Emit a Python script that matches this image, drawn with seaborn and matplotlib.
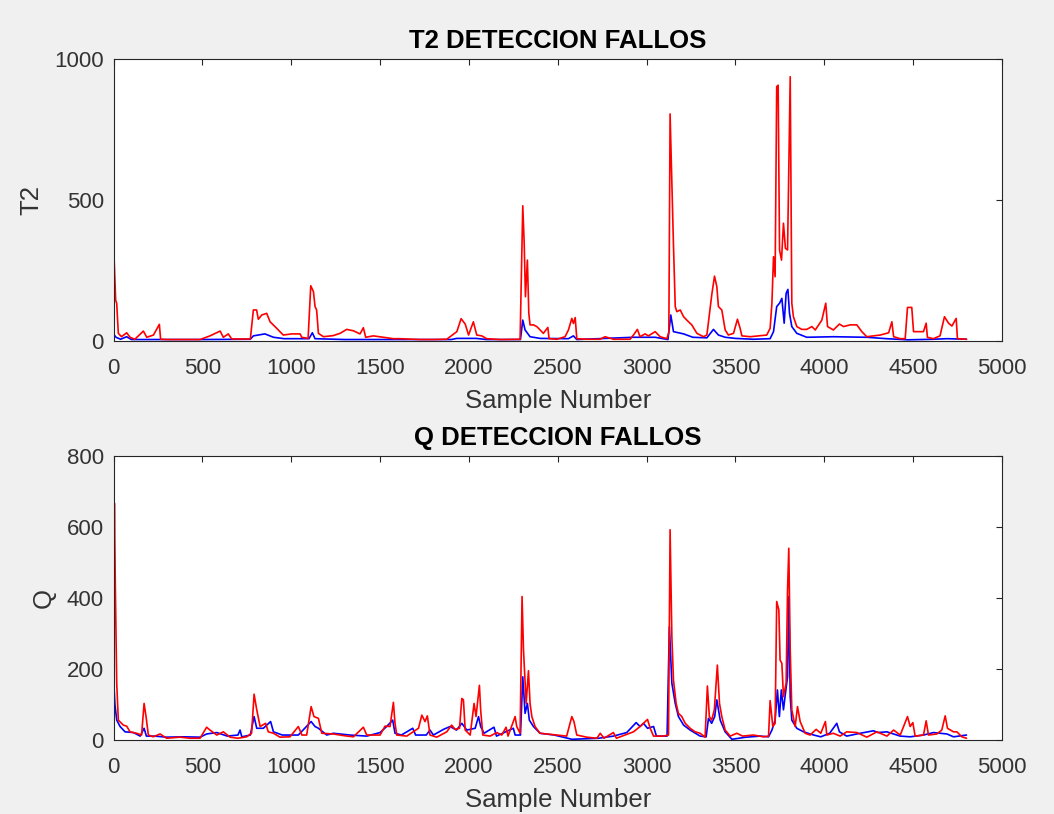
import matplotlib
matplotlib.use("Agg")
import matplotlib.pyplot as plt
import seaborn as sns
import pandas as pd

# ---- T2 statistic (upper panel) ----
t2_red_x = [0, 6, 12, 18, 27, 45, 74, 93, 120, 168, 187, 225, 258, 265, 300, 400, 487, 543, 600, 618, 646, 665,
            710, 770, 787, 805, 815, 834, 862, 881, 918, 955, 1003, 1050, 1059, 1095, 1110, 1125, 1134, 1143, 1153,
            1181, 1237, 1275, 1312, 1350, 1387, 1406, 1419, 1462, 1519, 1575, 1612, 1725, 1800, 1875, 1894, 1932,
            1956, 1979, 1998, 2025, 2044, 2072, 2100, 2176, 2288, 2303, 2311, 2318, 2329, 2337, 2344, 2363, 2382,
            2419, 2444, 2451, 2495, 2541, 2560, 2579, 2588, 2598, 2607, 2663, 2738, 2766, 2813, 2907, 2926, 2948,
            2963, 2991, 3010, 3048, 3076, 3114, 3125, 3132, 3151, 3161, 3170, 3189, 3208, 3226, 3254, 3283, 3320,
            3339, 3367, 3382, 3395, 3404, 3423, 3442, 3460, 3489, 3511, 3526, 3536, 3583, 3676, 3695, 3705, 3714,
            3723, 3732, 3740, 3748, 3759, 3770, 3781, 3793, 3808, 3817, 3826, 3845, 3873, 3901, 3930, 3949, 3986,
            4008, 4018, 4051, 4085, 4108, 4145, 4183, 4211, 4239, 4315, 4362, 4380, 4390, 4427, 4455, 4468, 4492,
            4502, 4558, 4573, 4580, 4614, 4651, 4676, 4699, 4718, 4742, 4749, 4800]
t2_red_y = [349, 250, 144, 132, 26, 14, 28, 12, 5, 34, 12, 20, 58, 5, 4, 4, 4, 17, 34, 12, 24, 6,
            6, 6, 109, 109, 76, 91, 97, 67, 44, 20, 24, 24, 12, 8, 195, 174, 121, 109, 26,
            14, 18, 26, 40, 35, 24, 46, 12, 17, 12, 7, 7, 4, 4, 5, 14, 32,
            78, 59, 20, 67, 20, 17, 7, 4, 5, 479, 346, 156, 286, 97, 56, 56, 50,
            26, 47, 7, 5, 14, 38, 79, 61, 82, 7, 5, 5, 14, 5, 5, 20, 40,
            14, 24, 17, 32, 14, 7, 30, 805, 340, 121, 103, 109, 85, 73, 56, 26, 14,
            20, 165, 229, 192, 121, 109, 38, 20, 26, 76, 44, 17, 14, 20, 44, 133, 298,
            227, 902, 907, 322, 286, 417, 328, 322, 937, 133, 85, 50, 40, 40, 50, 38, 73,
            133, 50, 38, 59, 50, 56, 56, 32, 14, 20, 28, 67, 14, 7, 7, 118, 118,
            32, 32, 62, 12, 7, 17, 85, 62, 52, 79, 7, 5]

t2_blue_x = [0, 14, 40, 74, 100, 500, 770, 787, 852, 900, 960, 1100, 1119, 1134, 1300, 1900, 1932, 2040, 2100,
             2290, 2303, 2316, 2344, 2400, 2560, 2588, 2607, 2926, 3048, 3120, 3136, 3151, 3208, 3260, 3339, 3376,
             3404, 3442, 3500, 3600, 3695, 3714, 3732, 3748, 3761, 3774, 3785, 3795, 3804, 3817, 3845, 3901, 4051,
             4239, 4350, 4470, 4614, 4690, 4800]
t2_blue_y = [24, 12, 5, 14, 4, 4, 5, 17, 24, 12, 7, 7, 28, 7, 4, 4, 8, 8, 4,
             4, 73, 38, 14, 8, 7, 17, 4, 12, 12, 4, 91, 32, 24, 12, 10, 40,
             20, 12, 8, 5, 7, 32, 121, 133, 150, 62, 168, 182, 97, 50, 26, 12, 14,
             12, 7, 3, 5, 7, 5]

# ---- Q statistic (lower panel) ----
q_red_x = [0, 5, 10, 18, 27, 55, 74, 93, 130, 158, 172, 183, 196, 224, 262, 299, 374, 430, 487, 524, 543, 581,
           618, 656, 700, 749, 777, 791, 806, 825, 856, 871, 900, 937, 993, 1040, 1060, 1087, 1112, 1128, 1153,
           1172, 1237, 1300, 1350, 1406, 1425, 1500, 1528, 1556, 1575, 1584, 1594, 1650, 1716, 1735, 1753, 1766,
           1781, 1819, 1875, 1903, 1922, 1947, 1960, 1969, 1979, 2007, 2029, 2040, 2059, 2066, 2078, 2119, 2157,
           2185, 2209, 2220, 2260, 2269, 2288, 2299, 2307, 2322, 2335, 2344, 2354, 2372, 2400, 2438, 2495, 2550,
           2579, 2591, 2607, 2663, 2720, 2739, 2760, 2813, 2830, 2926, 2963, 2997, 3005, 3020, 3039, 3095, 3123,
           3132, 3142, 3151, 3166, 3179, 3198, 3217, 3245, 3273, 3301, 3329, 3342, 3353, 3366, 3381, 3398, 3410,
           3423, 3442, 3470, 3508, 3540, 3601, 3658, 3686, 3695, 3710, 3723, 3732, 3744, 3751, 3761, 3770, 3785,
           3793, 3800, 3808, 3817, 3836, 3849, 3864, 3892, 3920, 3954, 3980, 4006, 4014, 4050, 4089, 4126, 4183,
           4239, 4296, 4352, 4390, 4427, 4468, 4483, 4498, 4511, 4558, 4573, 4586, 4633, 4661, 4680, 4693, 4727,
           4746, 4774, 4800]
q_red_y = [300, 667, 441, 160, 56, 42, 39, 23, 19, 14, 103, 66, 14, 9, 17, 5, 8, 5, 5, 36, 28, 14,
           23, 8, 5, 9, 19, 129, 85, 38, 47, 23, 19, 8, 9, 38, 14, 14, 94, 66, 61,
           19, 17, 12, 9, 36, 14, 14, 39, 38, 106, 47, 14, 11, 33, 70, 52, 68,
           14, 8, 23, 42, 30, 33, 117, 113, 28, 14, 103, 66, 154, 85, 14, 11, 21,
           14, 36, 11, 66, 38, 19, 404, 254, 103, 195, 103, 66, 38, 19, 17, 14, 11,
           66, 52, 14, 8, 5, 19, 5, 21, 5, 23, 38, 54, 58, 33, 11, 11, 14,
           592, 291, 169, 103, 75, 66, 47, 33, 23, 19, 8, 152, 66, 56, 85, 211, 103,
           66, 28, 11, 19, 11, 14, 9, 11, 111, 38, 47, 390, 366, 225, 216, 122, 160,
           423, 540, 254, 85, 38, 94, 52, 19, 14, 30, 19, 52, 14, 19, 11, 23, 21,
           8, 23, 11, 28, 14, 66, 38, 49, 11, 14, 54, 14, 17, 28, 68, 33, 23,
           23, 9, 5]

q_blue_x = [0, 3, 8, 18, 37, 65, 112, 150, 172, 185, 230, 299, 393, 487, 524, 581, 640, 700, 712, 722, 770, 791,
            806, 843, 884, 900, 950, 1040, 1112, 1134, 1153, 1200, 1237, 1330, 1425, 1500, 1537, 1571, 1584, 1620,
            1684, 1700, 1760, 1781, 1800, 1857, 1894, 1930, 1960, 1988, 2035, 2054, 2066, 2085, 2141, 2155, 2250,
            2260, 2290, 2303, 2316, 2329, 2340, 2363, 2400, 2480, 2530, 2580, 2730, 2813, 2888, 2941, 2963, 2982,
            3005, 3039, 3055, 3115, 3128, 3142, 3161, 3179, 3208, 3245, 3301, 3335, 3348, 3366, 3383, 3395, 3414,
            3442, 3480, 3560, 3640, 3686, 3705, 3723, 3736, 3747, 3758, 3770, 3781, 3793, 3800, 3808, 3817, 3845,
            3883, 3940, 3980, 4030, 4070, 4085, 4126, 4202, 4277, 4300, 4352, 4427, 4483, 4558, 4614, 4690, 4727,
            4800]
q_blue_y = [50, 150, 100, 56, 38, 23, 21, 11, 33, 11, 11, 8, 9, 8, 17, 21, 11, 14, 28, 9, 14, 66,
            33, 33, 52, 23, 14, 14, 52, 38, 33, 14, 19, 14, 11, 21, 38, 56, 19, 14,
            33, 14, 14, 28, 14, 30, 38, 28, 47, 28, 33, 66, 38, 19, 36, 11, 33,
            14, 14, 178, 75, 103, 56, 38, 19, 14, 8, 2, 5, 11, 21, 49, 38, 47,
            33, 38, 11, 11, 319, 160, 103, 66, 42, 28, 11, 9, 61, 47, 66, 113, 56,
            23, 2, 8, 11, 9, 28, 56, 141, 66, 141, 85, 131, 178, 404, 122, 56, 33,
            23, 14, 9, 19, 47, 23, 11, 19, 26, 21, 23, 11, 9, 14, 21, 17, 9,
            14]

x_ticks = [0, 500, 1000, 1500, 2000, 2500, 3000, 3500, 4000, 4500, 5000]
t2_ticks = [0, 500, 1000]
q_ticks = [0, 200, 400, 600, 800]

sns.set_theme(style="white")
plt.rcParams["font.family"] = ["Liberation Sans", "DejaVu Sans"]

ink = "#262626"
fig = plt.figure(figsize=(10.54, 8.14), dpi=100, facecolor="#f0f0f0")
ax1 = fig.add_axes([0.1077, 0.5815, 0.843, 0.346])
ax2 = fig.add_axes([0.1077, 0.0909, 0.843, 0.349])

panels = [
    (ax1, t2_blue_x, t2_blue_y, t2_red_x, t2_red_y, t2_ticks, "T2", "T2 DETECCION FALLOS"),
    (ax2, q_blue_x, q_blue_y, q_red_x, q_red_y, q_ticks, "Q", "Q DETECCION FALLOS"),
]

for ax, bx, by, rx, ry, yt, ylab, ttl in panels:
    ax.set_facecolor("white")
    blue = pd.DataFrame({"sample": bx, "value": by})
    red = pd.DataFrame({"sample": rx, "value": ry})
    sns.lineplot(data=blue, x="sample", y="value", color="#0000ff", lw=1.2,
                 errorbar=None, ax=ax)
    sns.lineplot(data=red, x="sample", y="value", color="#ff0000", lw=1.2,
                 errorbar=None, ax=ax)
    ax.set_xlim(x_ticks[0], x_ticks[-1])
    ax.set_ylim(yt[0], yt[-1])
    ax.set_xticks(x_ticks)
    ax.set_yticks(yt)
    ax.tick_params(direction="in", top=True, right=True, length=4.3, width=0.8,
                   color=ink, labelcolor="#333333", labelsize=16)
    ax.tick_params(axis="x", pad=12.5)
    ax.tick_params(axis="y", pad=7)
    for sp in ax.spines.values():
        sp.set_visible(True)
        sp.set_color(ink)
        sp.set_linewidth(0.8)
    ax.set_xlabel("Sample Number", fontsize=18.5, color="#333333", labelpad=7)
    ax.set_ylabel(ylab, fontsize=18.5, color="#333333", labelpad=8)
    ax.set_title(ttl, fontsize=18.5, fontweight="bold", color="black", pad=8)

fig.savefig("out.png", dpi=100, facecolor=fig.get_facecolor())
